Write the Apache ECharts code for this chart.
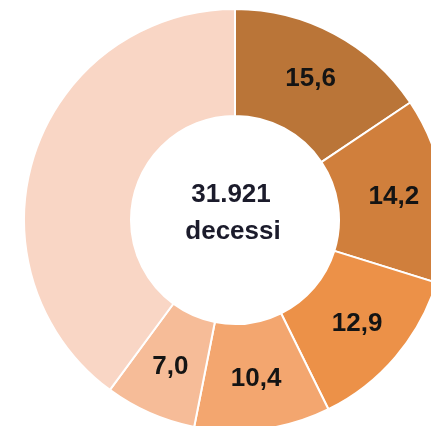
<!DOCTYPE html>
<html>
<head>
<meta charset="utf-8">
<script src="https://cdn.jsdelivr.net/npm/echarts@6/dist/echarts.min.js"></script>
<style>
html,body{margin:0;padding:0;background:#fff;}
#chart{width:431px;height:426px;}
</style>
</head>
<body>
<div id="chart"></div>
<script>
const categories = ['A', 'B', 'C', 'D', 'E', 'Altro'];
const values = [15.6, 14.2, 12.9, 10.4, 7.0, 39.9];
const showLabel = [true, true, true, true, true, false];
const colors = ['#BA7538', '#D07F3C', '#EC9148', '#F3A66F', '#F6BC98', '#F9D6C5'];
const centerLines = ['31.921', 'decessi'];

const chart = echarts.init(document.getElementById('chart'), null, {renderer: 'canvas'});
const data = categories.map((c, i) => ({
  name: c,
  value: values[i],
  itemStyle: {color: colors[i]},
  label: {show: showLabel[i]}
}));

const centerFont = 'bold 26px "Liberation Sans", Arial, sans-serif';
chart.setOption({
  animation: false,
  graphic: [
    {type: 'text', x: 231, y: 195, style: {text: centerLines[0], align: 'center', verticalAlign: 'middle', font: centerFont, fill: '#1b1b2b'}},
    {type: 'text', x: 233, y: 232, style: {text: centerLines[1], align: 'center', verticalAlign: 'middle', font: centerFont, fill: '#1b1b2b'}}
  ],
  series: [{
    type: 'pie',
    center: [235, 220],
    radius: [104, 211],
    startAngle: 90,
    clockwise: true,
    silent: true,
    itemStyle: {borderColor: '#ffffff', borderWidth: 2},
    label: {
      position: 'inside',
      formatter: p => p.value.toFixed(1).replace('.', ','),
      fontFamily: '"Liberation Sans", Arial, sans-serif',
      fontWeight: 'bold',
      fontSize: 26,
      color: '#141414'
    },
    labelLine: {show: false},
    data: data
  }]
});
</script>
</body>
</html>
